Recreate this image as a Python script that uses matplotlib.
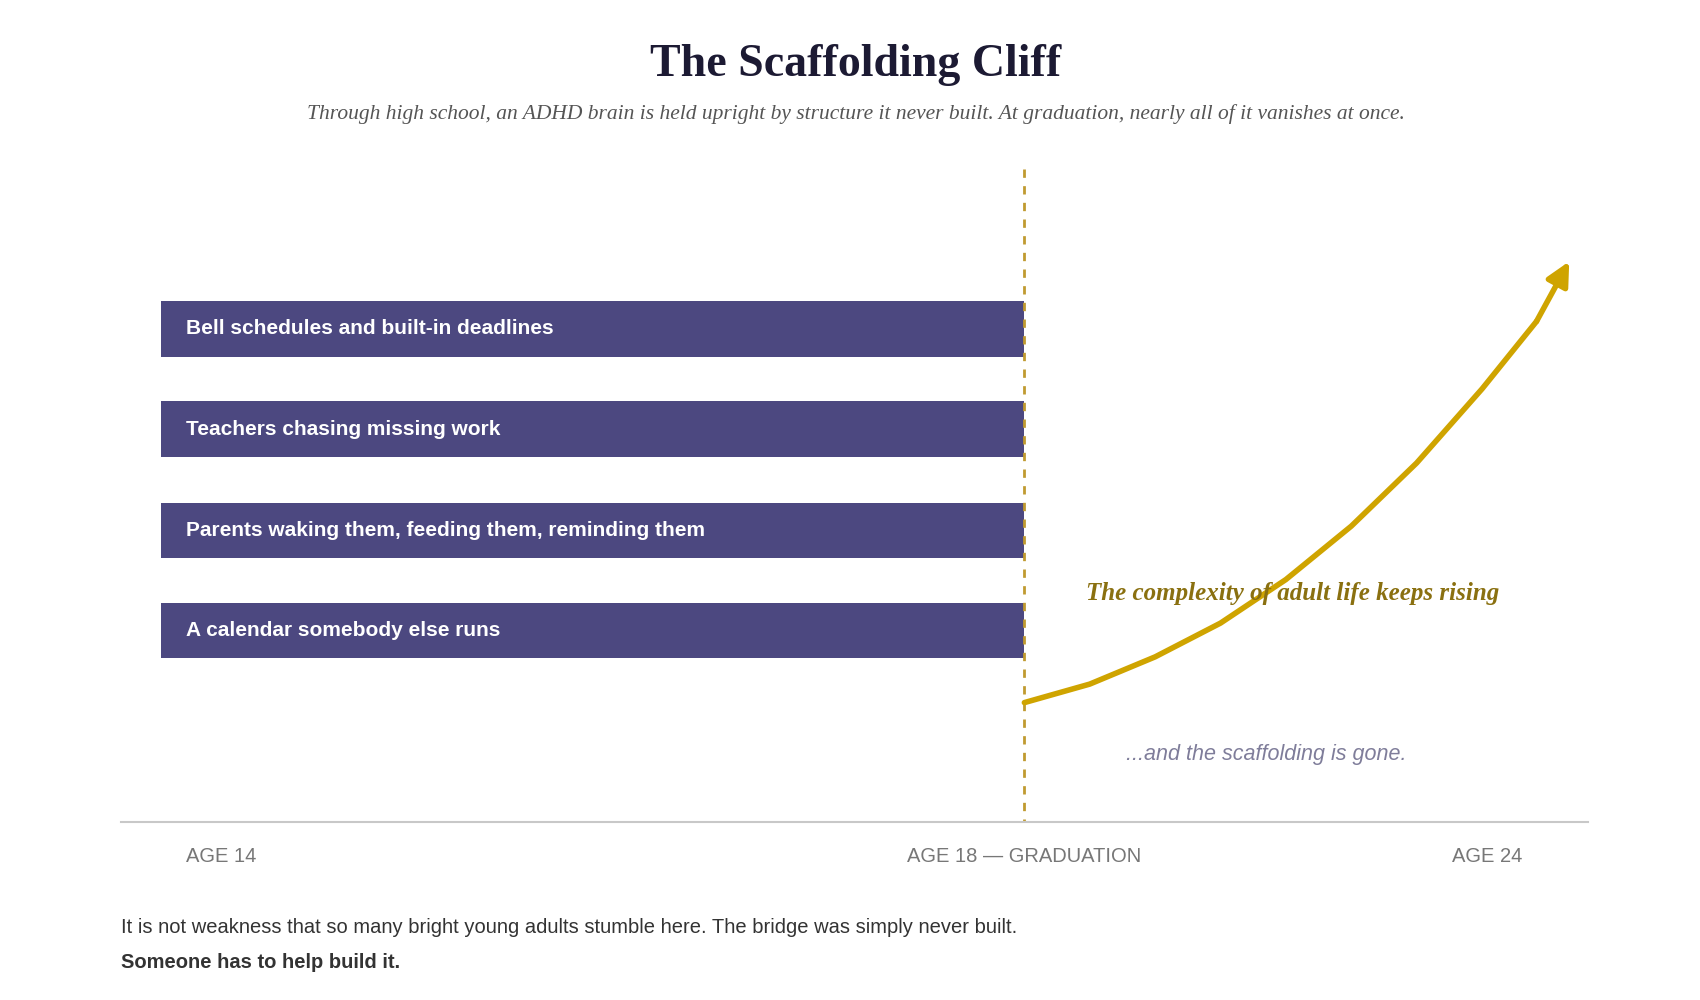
import matplotlib
matplotlib.use("Agg")
import matplotlib.pyplot as plt
import numpy as np

supports = ["Bell schedules and built-in deadlines",
            "Teachers chasing missing work",
            "Parents waking them, feeding them, reminding them",
            "A calendar somebody else runs"]
tick_labels = ["AGE 14", "AGE 18 — GRADUATION", "AGE 24"]
# complexity curve (display-space units of the chart frame)
curve_x = [940, 1000, 1060, 1120, 1180, 1240, 1300, 1360, 1410, 1440]
curve_y = [645, 628, 603, 572, 532, 483, 425, 357, 295, 240]

W, H = 1560, 918
fig = plt.figure(figsize=(17, 10), dpi=100)
ax = fig.add_axes([0, 0, 1, 1])
ax.set_xlim(0, W); ax.set_ylim(H, 0); ax.axis("off")

serif = ["Liberation Serif", "DejaVu Serif"]
sans = ["Liberation Sans", "DejaVu Sans"]
purple = "#4c4880"; gold = "#cfa400"

ax.text(785, 60, "The Scaffolding Cliff", ha="center", va="center",
        fontsize=33, fontweight="bold", family=serif, color="#1c1a33")
ax.text(785, 105, "Through high school, an ADHD brain is held upright by structure it never built. At graduation, nearly all of it vanishes at once.",
        ha="center", va="center", fontsize=15.5, style="italic", family=serif, color="#555555")

ycent = [302, 394, 487, 579]
ax.barh(ycent, [940 - 148] * len(supports), left=148, height=51, color=purple)
for y, s in zip(ycent, supports):
    ax.text(171, y, s, ha="left", va="center", fontsize=15, fontweight="bold",
            family=sans, color="white")

ax.plot([940, 940], [155, 755], ls=(0, (3, 3)), color="#c09a30", lw=2)
ax.plot([111, 1457], [755, 755], color="#c8c8c8", lw=1.5)

ax.plot(curve_x[:-1], curve_y[:-1], color=gold, lw=4, solid_capstyle="round")
ax.annotate("", xy=(curve_x[-1], curve_y[-1]), xytext=(curve_x[-2], curve_y[-2]),
            arrowprops=dict(arrowstyle="-|>,head_length=1.4,head_width=0.7",
                            color=gold, lw=4, shrinkA=0, shrinkB=0))

ax.text(997, 545, "The complexity of adult life keeps rising", ha="left", va="center",
        fontsize=18, fontweight="bold", style="italic", family=serif, color="#8a7010")
ax.text(1033, 693, "...and the scaffolding is gone.", ha="left", va="center",
        fontsize=15.5, style="italic", family=sans, color="#7f7d9a")

for x, t in zip([203, 940, 1365], tick_labels):
    ax.text(x, 786, t, ha="center", va="center", fontsize=14.5, family=sans, color="#777777")

ax.text(111, 851, "It is not weakness that so many bright young adults stumble here. The bridge was simply never built.",
        ha="left", va="center", fontsize=14.5, family=sans, color="#333333")
ax.text(111, 884, "Someone has to help build it.", ha="left", va="center",
        fontsize=14.5, fontweight="bold", family=sans, color="#333333")

fig.savefig("out.png", dpi=100, facecolor="white")
